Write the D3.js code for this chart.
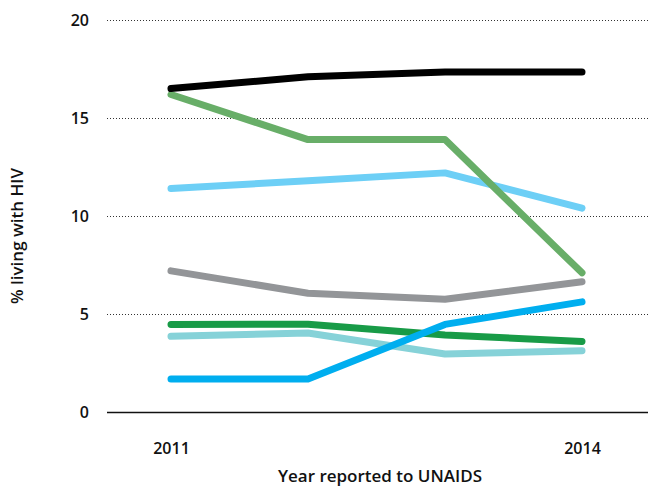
<!DOCTYPE html>
<html>
<head>
<meta charset="utf-8">
<script src="https://cdn.jsdelivr.net/npm/d3@7"></script>
<style>
  body { margin: 0; background: #fff; }
  text { font-family: "Open Sans", sans-serif; font-weight: 600; fill: #111; }
</style>
</head>
<body>
<div id="chart"></div>
<script>
// data
var years = [2011, 2012, 2013, 2014];
var yearLabels = [2011, 2014];
var yTicks = [0, 5, 10, 15, 20];

var seriesBlack = [16.5, 17.1, 17.35, 17.35];
var seriesLightGreen = [16.2, 13.9, 13.9, 7.1];
var seriesLightBlue = [11.4, 11.8, 12.2, 10.4];
var seriesGray = [7.2, 6.06, 5.75, 6.65];
var seriesGreen = [4.47, 4.48, 3.93, 3.6];
var seriesTeal = [3.86, 4.03, 2.96, 3.13];
var seriesBlue = [1.68, 1.68, 4.47, 5.62];

var series = [
    { values: seriesTeal, color: "#86d2d8" },
    { values: seriesGreen, color: "#189b47" },
    { values: seriesGray, color: "#939598" },
    { values: seriesLightBlue, color: "#6dcff6" },
    { values: seriesLightGreen, color: "#68ae68" },
    { values: seriesBlack, color: "#000000" },
    { values: seriesBlue, color: "#00aeef" }
];

var width = 651, height = 487;
var margin = { top: 20, right: 3, bottom: 75, left: 107 };

var svg = d3.select("#chart")
    .append("svg")
    .attr("width", width)
    .attr("height", height);

var x = d3.scalePoint()
    .domain(years)
    .range([171, 582]);

var y = d3.scaleLinear()
    .domain([0, 20])
    .range([height - margin.bottom, margin.top]);

// gridlines
svg.append("g")
    .selectAll("line")
    .data(yTicks.filter(function (d) { return d > 0; }))
    .enter().append("line")
    .attr("x1", margin.left)
    .attr("x2", width - margin.right)
    .attr("y1", function (d) { return y(d) + 0.5; })
    .attr("y2", function (d) { return y(d) + 0.5; })
    .attr("stroke", "#333")
    .attr("stroke-width", 1)
    .attr("stroke-dasharray", "1,2");

// baseline
svg.append("line")
    .attr("x1", margin.left)
    .attr("x2", width - margin.right)
    .attr("y1", y(0) + 0.5)
    .attr("y2", y(0) + 0.5)
    .attr("stroke", "#111")
    .attr("stroke-width", 1.3);

// y axis labels
var yAxis = d3.axisLeft(y).tickValues(yTicks).tickSize(0).tickPadding(18);
svg.append("g")
    .attr("transform", "translate(" + margin.left + ",0)")
    .call(yAxis)
    .call(function (g) { g.select(".domain").remove(); })
    .selectAll("text")
    .style("font-size", "16px")
    .style("font-family", "'Open Sans', sans-serif")
    .style("font-weight", 600)
    .attr("fill", "#111");

// x axis labels
var xAxis = d3.axisBottom(x).tickValues(yearLabels).tickSize(0).tickPadding(31);
svg.append("g")
    .attr("transform", "translate(0," + y(0) + ")")
    .call(xAxis)
    .call(function (g) { g.select(".domain").remove(); })
    .selectAll("text")
    .style("font-size", "16px")
    .style("font-family", "'Open Sans', sans-serif")
    .style("font-weight", 600)
    .attr("fill", "#111");

// lines
var line = d3.line()
    .x(function (d, i) { return x(years[i]); })
    .y(function (d) { return y(d); });

svg.append("g")
    .selectAll("path")
    .data(series)
    .enter().append("path")
    .attr("d", function (d) { return line(d.values); })
    .attr("fill", "none")
    .attr("stroke", function (d) { return d.color; })
    .attr("stroke-width", 7)
    .attr("stroke-linecap", "round")
    .attr("stroke-linejoin", "round");

// axis titles
svg.append("text")
    .attr("x", 380)
    .attr("y", 482)
    .attr("text-anchor", "middle")
    .style("font-size", "17px")
    .text("Year reported to UNAIDS");

svg.append("text")
    .attr("transform", "translate(23,236) rotate(-90)")
    .attr("text-anchor", "middle")
    .style("font-size", "17px")
    .text("% living with HIV");
</script>
</body>
</html>
